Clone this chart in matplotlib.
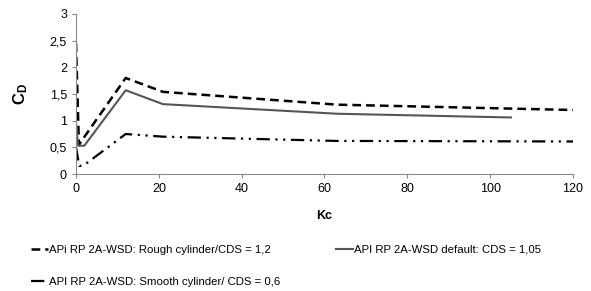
import matplotlib
matplotlib.use("Agg")
import matplotlib.pyplot as plt
from matplotlib.ticker import FuncFormatter

plt.rcParams['font.family'] = ['Liberation Sans', 'DejaVu Sans']
plt.rcParams['mathtext.fontset'] = 'custom'
plt.rcParams['mathtext.rm'] = 'Liberation Sans'
plt.rcParams['mathtext.bf'] = 'Liberation Sans:bold'

# Kc vs CD curves
kc_rough = [0, 0.7, 12, 21, 63, 120]
cd_rough = [2.45, 0.55, 1.8, 1.54, 1.3, 1.2]

kc_default = [0, 0.5, 2, 12, 21, 63, 105]
cd_default = [0.95, 0.53, 0.53, 1.57, 1.31, 1.13, 1.06]

kc_smooth = [0, 0.8, 2, 12, 21, 63, 120]
cd_smooth = [0.5, 0.15, 0.17, 0.75, 0.7, 0.62, 0.61]

lbl_rough = "APi RP 2A-WSD: Rough cylinder/CDS = 1,2"
lbl_default = "API RP 2A-WSD default: CDS = 1,05"
lbl_smooth = "API RP 2A-WSD: Smooth cylinder/ CDS = 0,6"

fig = plt.figure(figsize=(5.91, 2.91), dpi=100)
ax = fig.add_axes([0.1286, 0.402, 0.8409, 0.55])

l1, = ax.plot(kc_rough, cd_rough, color='black', lw=1.8, ls=(0, (3.5, 2)))
l2, = ax.plot(kc_default, cd_default, color='#555555', lw=1.5, ls='-')
l3, = ax.plot(kc_smooth, cd_smooth, color='black', lw=1.6, ls=(0, (6, 2.5, 1, 2.5, 1, 2.5)))

ax.set_xlim(0, 120)
ax.set_ylim(0, 3)
ax.set_xticks(range(0, 121, 20))
ax.set_yticks([0, 0.5, 1, 1.5, 2, 2.5, 3])
ax.yaxis.set_major_formatter(FuncFormatter(lambda v, p: f"{v:g}".replace('.', ',')))

for s in ['top', 'right']:
    ax.spines[s].set_visible(False)
for s in ['left', 'bottom']:
    ax.spines[s].set_color('#888888')
    ax.spines[s].set_linewidth(0.8)
ax.tick_params(colors='#888888', labelcolor='black', labelsize=9, length=3, width=0.8)

ax.set_xlabel("Kc", fontsize=9, fontweight='bold', labelpad=11)
ax.set_ylabel(r"$\mathbf{C_D}$", fontsize=12, labelpad=14)

fig.legend([l1, l3, l2], [lbl_rough, lbl_smooth, lbl_default], ncol=2,
           loc='upper left', bbox_to_anchor=(0.035, 0.195), frameon=False,
           fontsize=8.2, handlelength=1.5, handletextpad=0.1,
           labelspacing=2.0, columnspacing=4.9)

fig.savefig("out.png", dpi=100)
